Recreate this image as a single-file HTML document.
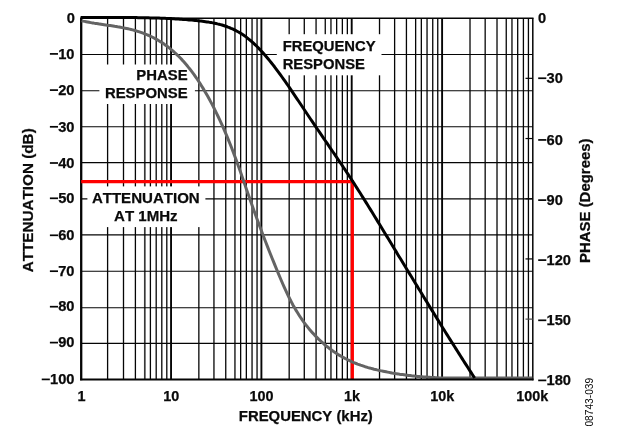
<!DOCTYPE html>
<html><head><meta charset="utf-8"><title>Filter response</title>
<style>
html,body{margin:0;padding:0;background:#fff;}
body{width:622px;height:432px;overflow:hidden;font-family:"Liberation Sans",sans-serif;}
svg{display:block;will-change:transform;}
text{font-family:"Liberation Sans",sans-serif;font-weight:bold;fill:#0a0a0a;font-kerning:none;stroke:#0a0a0a;stroke-width:0.25px;}
.t{font-size:14.67px;}
.a{font-size:14.67px;}
.s{font-size:10.2px;font-weight:normal;stroke:none;}
</style></head><body>
<svg width="622" height="432" viewBox="0 0 622 432">
<rect x="0" y="0" width="622" height="432" fill="#fff"/>
<g stroke="#050505" stroke-width="1.3" fill="none">
<line x1="107.60" y1="18.15" x2="107.60" y2="379.30"/>
<line x1="123.50" y1="18.15" x2="123.50" y2="379.30"/>
<line x1="135.40" y1="18.15" x2="135.40" y2="379.30"/>
<line x1="144.80" y1="18.15" x2="144.80" y2="379.30" stroke="#383838" stroke-width="1.7"/>
<line x1="150.40" y1="18.15" x2="150.40" y2="379.30"/>
<line x1="156.20" y1="18.15" x2="156.20" y2="379.30"/>
<line x1="161.80" y1="18.15" x2="161.80" y2="379.30"/>
<line x1="166.80" y1="18.15" x2="166.80" y2="379.30"/>
<line x1="198.85" y1="18.15" x2="198.85" y2="379.30"/>
<line x1="213.95" y1="18.15" x2="213.95" y2="379.30"/>
<line x1="225.75" y1="18.15" x2="225.75" y2="379.30"/>
<line x1="234.95" y1="18.15" x2="234.95" y2="379.30"/>
<line x1="240.65" y1="18.15" x2="240.65" y2="379.30"/>
<line x1="246.35" y1="18.15" x2="246.35" y2="379.30"/>
<line x1="252.05" y1="18.15" x2="252.05" y2="379.30"/>
<line x1="257.05" y1="18.15" x2="257.05" y2="379.30"/>
<line x1="171.05" y1="18.15" x2="171.05" y2="379.30" stroke-width="1.9"/>
<line x1="289.18" y1="18.15" x2="289.18" y2="379.30"/>
<line x1="304.28" y1="18.15" x2="304.28" y2="379.30"/>
<line x1="316.07" y1="18.15" x2="316.07" y2="379.30"/>
<line x1="325.26" y1="18.15" x2="325.26" y2="379.30"/>
<line x1="330.96" y1="18.15" x2="330.96" y2="379.30"/>
<line x1="336.66" y1="18.15" x2="336.66" y2="379.30"/>
<line x1="342.36" y1="18.15" x2="342.36" y2="379.30"/>
<line x1="347.35" y1="18.15" x2="347.35" y2="379.30"/>
<line x1="261.40" y1="18.15" x2="261.40" y2="379.30" stroke-width="1.9"/>
<line x1="379.52" y1="18.15" x2="379.52" y2="379.30"/>
<line x1="394.62" y1="18.15" x2="394.62" y2="379.30"/>
<line x1="406.43" y1="18.15" x2="406.43" y2="379.30"/>
<line x1="415.64" y1="18.15" x2="415.64" y2="379.30"/>
<line x1="421.34" y1="18.15" x2="421.34" y2="379.30"/>
<line x1="427.04" y1="18.15" x2="427.04" y2="379.30"/>
<line x1="432.74" y1="18.15" x2="432.74" y2="379.30"/>
<line x1="437.75" y1="18.15" x2="437.75" y2="379.30"/>
<line x1="351.70" y1="18.15" x2="351.70" y2="379.30" stroke-width="1.9"/>
<line x1="470.01" y1="18.15" x2="470.01" y2="379.30"/>
<line x1="485.17" y1="18.15" x2="485.17" y2="379.30"/>
<line x1="497.01" y1="18.15" x2="497.01" y2="379.30"/>
<line x1="506.25" y1="18.15" x2="506.25" y2="379.30"/>
<line x1="511.97" y1="18.15" x2="511.97" y2="379.30"/>
<line x1="517.69" y1="18.15" x2="517.69" y2="379.30"/>
<line x1="523.41" y1="18.15" x2="523.41" y2="379.30"/>
<line x1="528.43" y1="18.15" x2="528.43" y2="379.30"/>
<line x1="442.10" y1="18.15" x2="442.10" y2="379.30" stroke-width="1.9"/>
<line x1="81.20" y1="54.50" x2="532.80" y2="54.50" stroke-width="1.1"/>
<line x1="81.20" y1="90.70" x2="532.80" y2="90.70" stroke-width="1.1"/>
<line x1="81.20" y1="126.80" x2="532.80" y2="126.80" stroke-width="1.1"/>
<line x1="81.20" y1="162.60" x2="532.80" y2="162.60" stroke-width="1.1"/>
<line x1="81.20" y1="198.90" x2="532.80" y2="198.90" stroke-width="1.1"/>
<line x1="81.20" y1="234.90" x2="532.80" y2="234.90" stroke-width="1.1"/>
<line x1="81.20" y1="271.20" x2="532.80" y2="271.20" stroke-width="1.1"/>
<line x1="81.20" y1="307.70" x2="532.80" y2="307.70" stroke-width="1.1"/>
<line x1="81.20" y1="343.40" x2="532.80" y2="343.40" stroke-width="1.1"/>
</g>
<rect x="99.4" y="64.5" width="95.5" height="39.5" fill="#fff"/>
<rect x="276.8" y="34.2" width="104.7" height="41.1" fill="#fff"/>
<rect x="87.4" y="186.4" width="118" height="40.7" fill="#fff"/>
<line x1="81.20" y1="18.15" x2="533.55" y2="18.15" stroke="#050505" stroke-width="1.5"/>
<line x1="532.80" y1="18.15" x2="532.80" y2="380.30" stroke="#050505" stroke-width="1.5"/>
<line x1="81.20" y1="17.40" x2="81.20" y2="380.30" stroke="#050505" stroke-width="2.3"/>
<line x1="525.50" y1="78.34" x2="532.80" y2="78.34" stroke="#050505" stroke-width="1.2"/>
<line x1="525.50" y1="138.53" x2="532.80" y2="138.53" stroke="#050505" stroke-width="1.2"/>
<line x1="525.50" y1="198.73" x2="532.80" y2="198.73" stroke="#050505" stroke-width="1.2"/>
<line x1="525.50" y1="258.92" x2="532.80" y2="258.92" stroke="#050505" stroke-width="1.2"/>
<line x1="525.50" y1="319.11" x2="532.80" y2="319.11" stroke="#4a4a4a" stroke-width="1.2"/>
<path d="M81.2,181.55 H352.3 V379" stroke="#ff0000" stroke-width="3.3" fill="none" stroke-linejoin="miter"/>
<path d="M81.6,20.7 L83.1,21.1 L84.6,21.4 L86.1,21.7 L87.6,22.0 L89.1,22.3 L90.6,22.6 L92.1,22.9 L93.6,23.1 L95.1,23.4 L96.6,23.6 L98.1,23.8 L99.6,24.1 L101.1,24.3 L102.6,24.5 L104.1,24.7 L105.6,24.9 L107.1,25.2 L108.6,25.4 L110.1,25.6 L111.6,25.8 L113.1,26.0 L114.6,26.3 L116.1,26.5 L117.6,26.8 L119.1,27.0 L120.6,27.3 L122.1,27.6 L123.6,27.9 L125.1,28.2 L126.6,28.5 L128.1,28.8 L129.6,29.1 L131.1,29.5 L132.6,29.9 L134.1,30.3 L135.6,30.7 L137.1,31.2 L138.6,31.6 L140.1,32.1 L141.6,32.6 L143.1,33.2 L144.6,33.8 L146.1,34.3 L147.6,35.0 L149.1,35.6 L150.6,36.3 L152.1,37.0 L153.6,37.8 L155.1,38.6 L156.6,39.4 L158.1,40.3 L159.6,41.2 L161.1,42.1 L162.6,43.1 L164.1,44.1 L165.6,45.2 L167.1,46.3 L168.6,47.4 L170.1,48.6 L171.6,49.8 L173.1,51.1 L174.6,52.5 L176.1,53.9 L177.6,55.3 L179.1,56.8 L180.6,58.3 L182.1,59.9 L183.6,61.6 L185.1,63.3 L186.6,65.0 L188.1,66.9 L189.6,68.7 L191.1,70.7 L192.6,72.7 L194.1,74.7 L195.6,76.9 L197.1,79.0 L198.6,81.3 L200.1,83.6 L201.6,86.0 L203.1,88.4 L204.6,90.9 L206.1,93.5 L207.6,96.1 L209.1,98.8 L210.6,101.6 L212.1,104.4 L213.6,107.3 L215.1,110.3 L216.6,113.4 L218.1,116.5 L219.6,119.7 L221.1,122.9 L222.6,126.2 L224.1,129.6 L225.6,133.1 L227.1,136.7 L228.6,140.3 L230.1,144.0 L231.6,147.8 L233.1,151.7 L234.6,155.7 L236.1,159.7 L237.6,163.9 L239.1,168.1 L240.6,172.3 L242.1,176.7 L243.6,181.0 L245.1,185.3 L246.6,189.7 L248.1,194.0 L249.6,198.3 L251.1,202.5 L252.6,206.8 L254.1,210.9 L255.6,215.1 L257.1,219.2 L258.6,223.3 L260.1,227.3 L261.6,231.3 L263.1,235.2 L264.6,239.2 L266.1,243.0 L267.6,246.9 L269.1,250.7 L270.6,254.5 L272.1,258.2 L273.6,261.9 L275.1,265.6 L276.6,269.3 L278.1,272.9 L279.6,276.5 L281.1,280.0 L282.6,283.5 L284.1,286.9 L285.6,290.2 L287.1,293.4 L288.6,296.5 L290.1,299.5 L291.6,302.4 L293.1,305.2 L294.6,307.8 L296.1,310.4 L297.6,312.8 L299.1,315.2 L300.6,317.5 L302.1,319.7 L303.6,321.8 L305.1,323.8 L306.6,325.8 L308.1,327.6 L309.6,329.5 L311.1,331.2 L312.6,332.9 L314.1,334.5 L315.6,336.1 L317.1,337.6 L318.6,339.1 L320.1,340.5 L321.6,341.9 L323.1,343.2 L324.6,344.5 L326.1,345.8 L327.6,347.0 L329.1,348.2 L330.6,349.3 L332.1,350.4 L333.6,351.5 L335.1,352.5 L336.6,353.5 L338.1,354.5 L339.6,355.4 L341.1,356.3 L342.6,357.1 L344.1,357.9 L345.6,358.7 L347.1,359.5 L348.6,360.2 L350.1,360.9 L351.6,361.6 L353.1,362.3 L354.6,362.9 L356.1,363.5 L357.6,364.1 L359.1,364.6 L360.6,365.2 L362.1,365.7 L363.6,366.2 L365.1,366.7 L366.6,367.1 L368.1,367.6 L369.6,368.0 L371.1,368.4 L372.6,368.8 L374.1,369.2 L375.6,369.5 L377.1,369.9 L378.6,370.2 L380.1,370.6 L381.6,370.9 L383.1,371.2 L384.6,371.5 L386.1,371.8 L387.6,372.1 L389.1,372.4 L390.6,372.7 L392.1,373.0 L393.6,373.2 L395.1,373.5 L396.6,373.7 L398.1,373.9 L399.6,374.2 L401.1,374.4 L402.6,374.6 L404.1,374.8 L405.6,375.0 L407.1,375.2 L408.6,375.4 L410.1,375.6 L411.6,375.8 L413.1,375.9 L414.6,376.1 L416.1,376.2 L417.6,376.4 L419.1,376.5 L420.6,376.7 L422.1,376.8 L423.6,376.9 L425.1,377.0 L426.6,377.1 L428.1,377.2 L429.6,377.3 L431.1,377.4 L432.6,377.5 L434.1,377.6 L435.6,377.7 L437.1,377.8 L438.6,377.8 L440.0,378.1 L532.3,378.1" stroke="#646464" stroke-width="3" fill="none" stroke-linejoin="round"/>
<path d="M80.6,17.5 L120.0,17.6 L121.5,17.6 L123.0,17.6 L124.5,17.6 L126.0,17.6 L127.5,17.6 L129.0,17.6 L130.5,17.6 L132.0,17.6 L133.5,17.6 L135.0,17.6 L136.5,17.6 L138.0,17.7 L139.5,17.7 L141.0,17.7 L142.5,17.7 L144.0,17.7 L145.5,17.8 L147.0,17.8 L148.5,17.8 L150.0,17.9 L151.5,17.9 L153.0,17.9 L154.5,18.0 L156.0,18.0 L157.5,18.1 L159.0,18.1 L160.5,18.2 L162.0,18.2 L163.5,18.3 L165.0,18.3 L166.5,18.4 L168.0,18.5 L169.5,18.5 L171.0,18.6 L172.5,18.7 L174.0,18.8 L175.5,18.9 L177.0,19.0 L178.5,19.1 L180.0,19.2 L181.5,19.3 L183.0,19.4 L184.5,19.5 L186.0,19.6 L187.5,19.7 L189.0,19.9 L190.5,20.0 L192.0,20.1 L193.5,20.3 L195.0,20.4 L196.5,20.6 L198.0,20.8 L199.5,20.9 L201.0,21.1 L202.5,21.3 L204.0,21.5 L205.5,21.7 L207.0,21.9 L208.5,22.1 L210.0,22.4 L211.5,22.6 L213.0,22.9 L214.5,23.2 L216.0,23.5 L217.5,23.9 L219.0,24.2 L220.5,24.6 L222.0,25.0 L223.5,25.5 L225.0,26.0 L226.5,26.5 L228.0,27.1 L229.5,27.6 L231.0,28.3 L232.5,28.9 L234.0,29.6 L235.5,30.4 L237.0,31.2 L238.5,32.0 L240.0,32.9 L241.5,33.8 L243.0,34.8 L244.5,35.8 L246.0,36.9 L247.5,38.1 L249.0,39.3 L250.5,40.5 L252.0,41.8 L253.5,43.2 L255.0,44.6 L256.5,46.0 L258.0,47.5 L259.5,49.1 L261.0,50.7 L262.5,52.3 L264.0,54.0 L265.5,55.7 L267.0,57.5 L268.5,59.3 L270.0,61.1 L271.5,63.0 L273.0,64.9 L274.5,66.8 L276.0,68.8 L277.5,70.8 L279.0,72.8 L280.5,74.9 L282.0,77.0 L283.5,79.1 L285.0,81.2 L286.5,83.3 L288.0,85.5 L289.5,87.7 L291.0,89.9 L292.5,92.1 L294.0,94.3 L295.5,96.6 L297.0,98.8 L298.5,101.0 L300.0,103.3 L301.5,105.5 L303.0,107.8 L304.5,110.0 L306.0,112.3 L307.5,114.5 L309.0,116.8 L310.5,119.0 L312.0,121.2 L313.5,123.4 L315.0,125.6 L316.5,127.8 L318.0,130.0 L319.5,132.2 L321.0,134.4 L322.5,136.6 L324.0,138.8 L325.5,141.0 L327.0,143.2 L328.5,145.4 L330.0,147.6 L331.5,149.8 L333.0,152.0 L334.5,154.2 L336.0,156.4 L337.5,158.6 L339.0,160.8 L340.5,163.0 L342.0,165.2 L343.5,167.5 L345.0,169.7 L346.5,172.0 L348.0,174.2 L349.5,176.5 L351.0,178.8 L352.5,181.1 L354.0,183.4 L355.5,185.8 L357.0,188.1 L358.5,190.5 L360.0,192.8 L361.5,195.2 L363.0,197.6 L364.5,200.0 L366.0,202.4 L367.5,204.8 L369.0,207.2 L370.5,209.6 L372.0,212.1 L373.5,214.5 L375.0,217.0 L376.5,219.4 L378.0,221.9 L379.5,224.3 L381.0,226.8 L382.5,229.2 L384.0,231.7 L385.5,234.2 L387.0,236.6 L388.5,239.1 L390.0,241.6 L391.5,244.0 L393.0,246.5 L394.5,249.0 L396.0,251.4 L397.5,253.9 L399.0,256.4 L400.5,258.8 L402.0,261.3 L403.5,263.8 L405.0,266.2 L406.5,268.7 L408.0,271.2 L409.5,273.6 L411.0,276.1 L412.5,278.5 L414.0,281.0 L415.5,283.5 L417.0,285.9 L418.5,288.4 L420.0,290.8 L421.5,293.3 L423.0,295.7 L424.5,298.2 L426.0,300.6 L427.5,303.1 L429.0,305.5 L430.5,308.0 L432.0,310.4 L433.5,312.8 L435.0,315.3 L436.5,317.7 L438.0,320.1 L439.5,322.5 L441.0,324.9 L442.5,327.4 L444.0,329.8 L445.5,332.2 L447.0,334.6 L448.5,337.0 L450.0,339.4 L451.5,341.8 L453.0,344.1 L454.5,346.5 L456.0,348.9 L457.5,351.3 L459.0,353.6 L460.5,356.0 L462.0,358.4 L463.5,360.7 L465.0,363.1 L466.5,365.4 L468.0,367.7 L469.5,370.1 L471.0,372.4 L472.5,374.7 L474.0,377.0 L474.6,378.0" stroke="#000" stroke-width="3" fill="none" stroke-linejoin="round"/>
<line x1="80.05" y1="379.60" x2="533.55" y2="379.60" stroke="#050505" stroke-width="2"/>
<text class="t" x="75.00" y="22.95" text-anchor="end">0</text>
<text class="t" x="74.50" y="58.60" text-anchor="end">10</text>
<rect x="49.89" y="53.05" width="8.1" height="1.7" fill="#050505"/>
<text class="t" x="74.50" y="94.80" text-anchor="end">20</text>
<rect x="49.89" y="89.25" width="8.1" height="1.7" fill="#050505"/>
<text class="t" x="74.50" y="131.50" text-anchor="end">30</text>
<rect x="49.89" y="125.95" width="8.1" height="1.7" fill="#050505"/>
<text class="t" x="74.50" y="167.70" text-anchor="end">40</text>
<rect x="49.89" y="162.15" width="8.1" height="1.7" fill="#050505"/>
<text class="t" x="74.50" y="203.00" text-anchor="end">50</text>
<rect x="49.89" y="197.45" width="8.1" height="1.7" fill="#050505"/>
<text class="t" x="74.50" y="240.00" text-anchor="end">60</text>
<rect x="49.89" y="234.45" width="8.1" height="1.7" fill="#050505"/>
<text class="t" x="74.50" y="275.90" text-anchor="end">70</text>
<rect x="49.89" y="270.35" width="8.1" height="1.7" fill="#050505"/>
<text class="t" x="74.50" y="311.40" text-anchor="end">80</text>
<rect x="49.89" y="305.85" width="8.1" height="1.7" fill="#050505"/>
<text class="t" x="74.50" y="347.30" text-anchor="end">90</text>
<rect x="49.89" y="341.75" width="8.1" height="1.7" fill="#050505"/>
<text class="t" x="74.50" y="384.10" text-anchor="end">100</text>
<rect x="41.73" y="378.55" width="8.1" height="1.7" fill="#050505"/>
<text class="t" x="538" y="22.95">0</text>
<rect x="538.20" y="77.39" width="8.1" height="1.7" fill="#050505"/>
<text class="t" x="546.50" y="82.94">30</text>
<rect x="538.20" y="139.08" width="8.1" height="1.7" fill="#050505"/>
<text class="t" x="546.50" y="144.63">60</text>
<rect x="538.20" y="199.28" width="8.1" height="1.7" fill="#050505"/>
<text class="t" x="546.50" y="204.83">90</text>
<rect x="538.20" y="259.27" width="8.1" height="1.7" fill="#050505"/>
<text class="t" x="546.50" y="264.82">120</text>
<rect x="538.20" y="319.46" width="8.1" height="1.7" fill="#050505"/>
<text class="t" x="546.50" y="325.01">150</text>
<rect x="538.20" y="379.55" width="8.1" height="1.7" fill="#050505"/>
<text class="t" x="546.50" y="385.10">180</text>
<text class="t" style="font-size:14.4px" x="81.40" y="400.5" text-anchor="middle">1</text>
<text class="t" style="font-size:14.4px" x="171.25" y="400.5" text-anchor="middle">10</text>
<text class="t" style="font-size:14.4px" x="261.60" y="400.5" text-anchor="middle">100</text>
<text class="t" style="font-size:14.4px" x="351.90" y="400.5" text-anchor="middle">1k</text>
<text class="t" style="font-size:14.4px" x="442.30" y="400.5" text-anchor="middle">10k</text>
<text class="t" style="font-size:14.4px" x="532.20" y="400.5" text-anchor="middle">100k</text>
<text class="a" style="font-size:14.9px" x="305.8" y="421.4" text-anchor="middle">FREQUENCY (kHz)</text>
<text class="a" style="font-size:15.25px" transform="translate(33.2,200.3) rotate(-90)" text-anchor="middle">ATTENUATION (dB)</text>
<text class="a" style="font-size:14.95px" transform="translate(590,200.7) rotate(-90)" text-anchor="middle">PHASE (Degrees)</text>
<text class="s" transform="translate(593.3,402.2) rotate(-90)" text-anchor="middle">08743-039</text>
<text class="a" style="font-size:14.88px" x="187.6" y="80.4" text-anchor="end">PHASE</text>
<text class="a" style="font-size:14.88px" x="187.6" y="97.6" text-anchor="end">RESPONSE</text>
<text class="a" style="font-size:14.8px" x="282.7" y="51.3">FREQUENCY</text>
<text class="a" style="font-size:14.8px" x="282.7" y="68.7">RESPONSE</text>
<text class="a" style="font-size:15.05px" x="145.8" y="202.7" text-anchor="middle">ATTENUATION</text>
<text class="a" style="font-size:15.05px" x="145.8" y="220.8" text-anchor="middle">AT 1MHz</text>
</svg>
</body></html>
